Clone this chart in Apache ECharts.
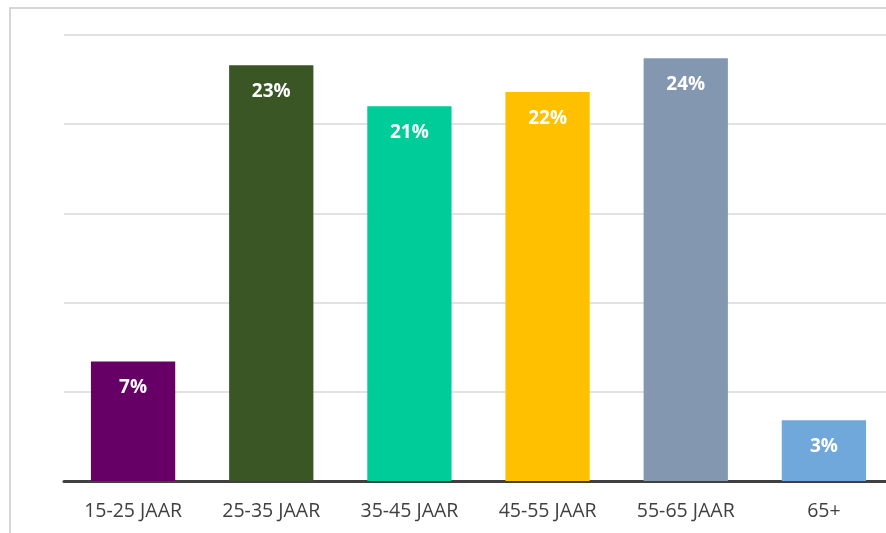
<!DOCTYPE html>
<html>
<head>
<meta charset="utf-8">
<script src="https://cdn.jsdelivr.net/npm/echarts@6/dist/echarts.min.js"></script>
<style>
  html, body { margin: 0; padding: 0; background: #fff; overflow: hidden; }
  /* plot area runs past the right edge of the window, as in the source */
  #chart { width: 893px; height: 533px; }
</style>
</head>
<body>
<div id="chart"></div>
<script>
var categories = ['15-25 JAAR', '25-35 JAAR', '35-45 JAAR', '45-55 JAAR', '55-65 JAAR', '65+'];
var shares = [6.7, 23.3, 21.0, 21.8, 23.7, 3.4];
var barColors = ['#660066', '#3a5624', '#00cc99', '#ffc000', '#8497b0', '#70a8db'];

var myChart = echarts.init(document.getElementById('chart'));

var option = {
  animation: false,
  graphic: [{
    type: 'rect',
    shape: { x: 10, y: 8, width: 900, height: 600 },
    style: { fill: 'none', stroke: '#c9c9c9', lineWidth: 1.5 },
    z: -1
  }],
  grid: { left: 64, right: 0, top: 35, bottom: 52 },
  xAxis: {
    type: 'category',
    data: categories,
    axisLine: { lineStyle: { color: '#404040', width: 3 } },
    axisTick: { show: false },
    axisLabel: {
      color: '#404040',
      fontSize: 19.5,
      fontFamily: 'Open Sans',
      margin: 20
    }
  },
  yAxis: {
    type: 'value',
    min: 0,
    max: 25,
    interval: 5,
    axisLabel: { show: false },
    axisLine: { show: false },
    axisTick: { show: false },
    splitLine: { lineStyle: { color: '#d9d9d9', width: 1.5 } }
  },
  series: [{
    type: 'bar',
    barWidth: '61%',
    data: shares.map(function (v, i) {
      return { value: v, itemStyle: { color: barColors[i] } };
    }),
    label: {
      show: true,
      position: 'insideTop',
      distance: 17,
      color: '#fff',
      fontSize: 19,
      fontWeight: 'bold',
      fontFamily: 'Open Sans',
      formatter: function (p) { return Math.round(p.value) + '%'; }
    }
  }]
};

myChart.setOption(option);
</script>
</body>
</html>
